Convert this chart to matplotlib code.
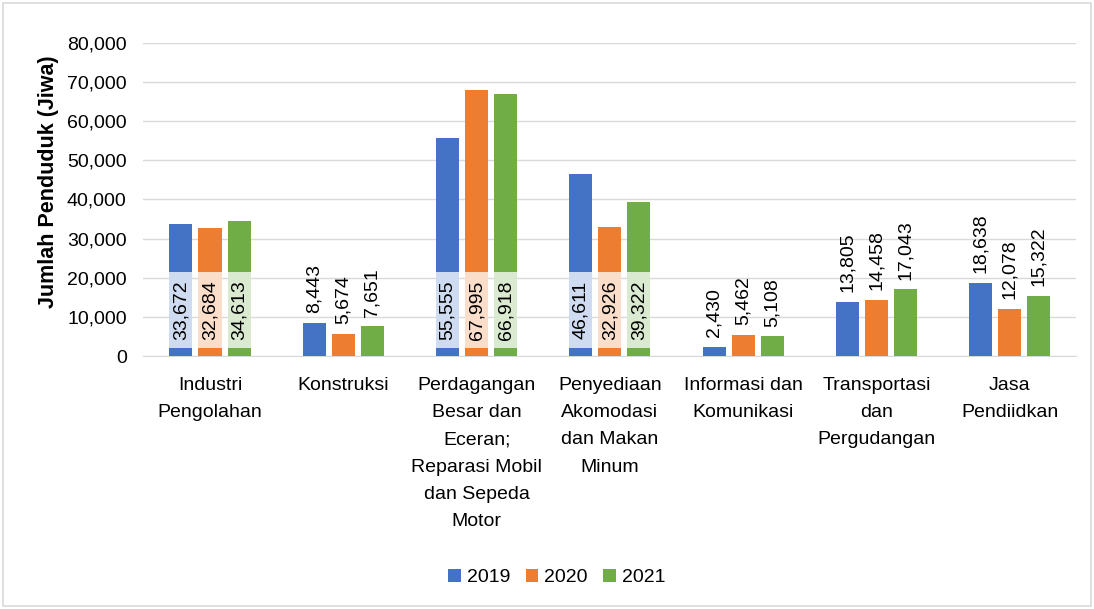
import matplotlib
matplotlib.use("Agg")
import matplotlib.pyplot as plt
from matplotlib.patches import Rectangle
import numpy as np

plt.rcParams['font.family'] = ['Liberation Sans', 'DejaVu Sans']

categories = ["Industri\nPengolahan", "Konstruksi",
              "Perdagangan\nBesar dan\nEceran;\nReparasi Mobil\ndan Sepeda\nMotor",
              "Penyediaan\nAkomodasi\ndan Makan\nMinum", "Informasi dan\nKomunikasi",
              "Transportasi\ndan\nPergudangan", "Jasa\nPendiidkan"]
years = ["2019", "2020", "2021"]
v2019 = [33672, 8443, 55555, 46611, 2430, 13805, 18638]
v2020 = [32684, 5674, 67995, 32926, 5462, 14458, 12078]
v2021 = [34613, 7651, 66918, 39322, 5108, 17043, 15322]
colors = ["#4472C4", "#ED7D31", "#70AD47"]

fig = plt.figure(figsize=(10.94, 6.09), dpi=100)
ax = fig.add_axes([0.131, 0.415, 0.853, 0.515])
fig.patches.append(Rectangle((0.003, 0.005), 0.994, 0.99, transform=fig.transFigure,
                             fill=False, edgecolor="#d9d9d9", linewidth=1.2))

x = np.arange(len(categories))
bw = 0.173
step = 0.218
handles = []
for i, (vals, c, yr) in enumerate(zip([v2019, v2020, v2021], colors, years)):
    xs = x + (i - 1) * step
    h = ax.bar(xs, vals, width=bw, color=c, label=yr, zorder=3)
    handles.append(h)
    for xi, v in zip(xs, vals):
        txt = f"{v:,}"
        if v >= 30000:
            ax.add_patch(Rectangle((xi - bw / 2, 2000), bw, 19500, facecolor="white",
                                   alpha=0.75, edgecolor="none", zorder=4))
            ax.text(xi, 11750, txt, rotation=90, ha="center", va="center",
                    fontsize=14, color="black", zorder=5)
        else:
            ax.annotate(txt, (xi, v), xytext=(0, 7), textcoords="offset points",
                        rotation=90, ha="center", va="bottom", fontsize=14,
                        color="black", zorder=5)

ax.set_xlim(-0.5, len(categories) - 0.5)
ax.set_ylim(0, 80000)
ax.set_yticks(np.arange(0, 80001, 10000))
ax.yaxis.set_major_formatter(matplotlib.ticker.FuncFormatter(lambda v, p: f"{int(v):,}"))
ax.grid(axis="y", color="#d9d9d9", linewidth=1, zorder=0)
ax.set_axisbelow(True)
for s in ["top", "right", "left"]:
    ax.spines[s].set_visible(False)
ax.spines["bottom"].set_color("#d9d9d9")
ax.tick_params(axis="both", length=0, labelsize=14)
ax.tick_params(axis="y", pad=12)
ax.tick_params(axis="x", pad=15)
ax.set_xticks(x)
ax.set_xticklabels(categories, fontsize=14, linespacing=1.78, va="top")
ax.set_ylabel("Jumlah Penduduk (Jiwa)", fontsize=15.5, fontweight="bold")
ax.yaxis.set_label_coords(-0.090, 0.556)

fig.legend(handles=handles, labels=years, loc="center", bbox_to_anchor=(0.509, 0.052),
           ncol=3, frameon=False, fontsize=14, handlelength=0.65, handleheight=0.65,
           columnspacing=0.8, handletextpad=0.3)

fig.savefig("out.png", dpi=100)
